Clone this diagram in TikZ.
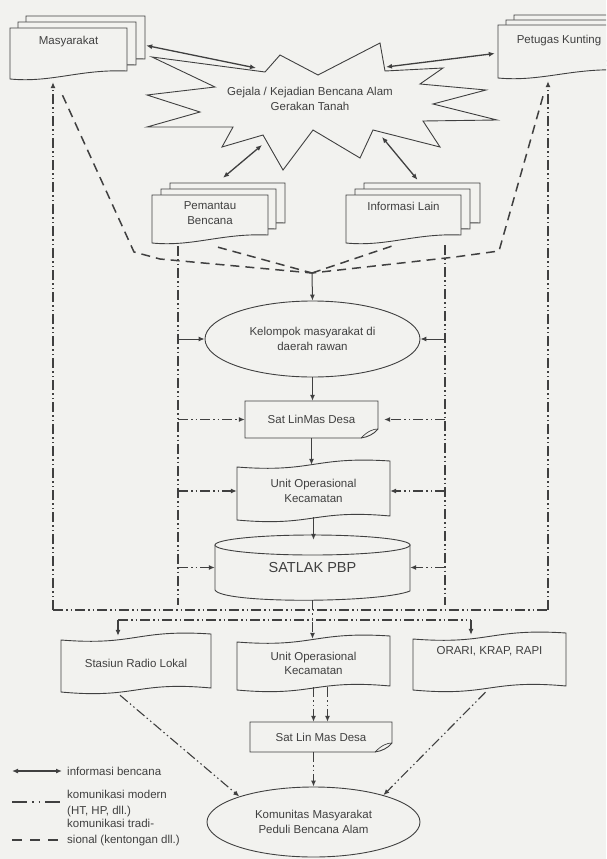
\documentclass[tikz,border=0pt]{standalone}
\usepackage{fontspec}
\setmainfont{Liberation Sans}
\usetikzlibrary{arrows.meta,shapes.geometric,calc}
\definecolor{bg}{HTML}{F2F2EF}
\definecolor{ink}{HTML}{404040}
\newcommand{\mytxtfont}{\fontsize{11.5}{14.5}\selectfont}
\newcommand{\toptext}[3]{\parbox[c][#1][t]{112pt}{\centering\vspace*{#2}#3\par}}
\newcommand{\docshape}[4]{\draw[shp] (#1,#2) -- (#3,#2) -- (#3,{(#4)-8}) .. controls ({(#1)+0.6*((#3)-(#1))},{(#4)-10}) and ({(#1)+0.35*((#3)-(#1))},{(#4)+4}) .. (#1,#4) -- cycle;}
\newcommand{\tapeshape}[4]{\draw[shp] (#1,{(#2)+6}) .. controls ({0.5*((#1)+(#3))},{(#2)+12}) and ({0.5*((#1)+(#3))},{(#2)-5}) .. (#3,#2) -- (#3,{(#4)-5}) .. controls ({0.5*((#1)+(#3))},{(#4)-12}) and ({0.5*((#1)+(#3))},{(#4)+6}) .. (#1,{(#4)-1}) -- cycle;}
\newcommand{\earshape}[4]{\draw[shp] (#1,#2) -- (#3,#2) -- (#3,{(#4)-9}) .. controls ({(#3)-4},{(#4)-4}) and ({(#3)-10},{(#4)-1}) .. ({(#3)-17},#4) -- (#1,#4) -- cycle;
  \draw[ink,line width=0.7pt] ({(#3)-17},#4) .. controls ({(#3)-10},{(#4)-7}) and ({(#3)-5},{(#4)-9}) .. (#3,{(#4)-9});}
\tikzset{
  shp/.style={draw=ink, line width=0.9pt, fill=bg},
  hold/.style={inner sep=0pt, align=center, text=ink, font=\mytxtfont},
  ell/.style={ellipse, draw=ink, line width=0.9pt, fill=bg, inner sep=0pt, align=center, text=ink, font=\mytxtfont},
  info/.style={draw=ink, line width=1.3pt, {Latex[length=6pt,width=5pt]}-{Latex[length=6pt,width=5pt]}},
  flow/.style={draw=ink, line width=1pt, -{Latex[length=6pt,width=5pt]}},
  tip/.style={-{Latex[length=6pt,width=5pt]}},
  modern/.style={draw=ink, line width=1.1pt, dash pattern=on 10pt off 3pt on 1.5pt off 3pt on 1.5pt off 3pt},
  trad/.style={draw=ink, line width=1.5pt, dash pattern=on 9pt off 6pt},
}
\begin{document}
\begin{tikzpicture}[x=1pt,y=-1pt]
\clip (0,0) rectangle (606,859);
\fill[bg] (0,0) rectangle (606,859);

% ---------- modern communication framework (drawn first, behind shapes)
\coordinate (LL) at (53,610);
\coordinate (RR) at (548,610);
\coordinate (LI) at (178,605);
\coordinate (RI) at (445,605);
\coordinate (h2l) at (118,620);
\coordinate (h2r) at (471,620);

% ---------- top documents
\docshape{26}{16}{145}{67}
\docshape{18}{22}{136}{73}
\docshape{10}{28}{127}{79}
\node[hold,minimum width=117pt,minimum height=51pt] (mas) at (68.5,53.5) {\toptext{51pt}{8pt}{Masyarakat}};

\docshape{514}{15}{640}{68}
\docshape{506}{20}{630}{73}
\docshape{498}{25}{620}{78}
\node[hold,minimum width=122pt,minimum height=53pt] (pet) at (559,51.5) {\toptext{53pt}{10pt}{Petugas Kunting}};

\docshape{170}{183}{285}{231}
\docshape{161}{189}{276}{237}
\docshape{152}{195}{268}{243}
\node[hold,minimum width=116pt,minimum height=48pt] (pem) at (210,219) {\toptext{48pt}{7pt}{Pemantau\\Bencana}};

\docshape{364}{183}{480}{231}
\docshape{355}{189}{470}{237}
\docshape{346}{195}{461}{243}
\node[hold,minimum width=115pt,minimum height=48pt] (inf) at (403.5,219) {\toptext{48pt}{7pt}{Informasi Lain}};

% ---------- starburst
\draw[shp] (380,43) -- (385,71) -- (443,68) -- (420,84) -- (486,90) -- (433,104) -- (497,120) -- (423,121) -- (440,147) -- (373,130) -- (360,158) -- (313,130) -- (283,170) -- (263,135) -- (222,147) -- (233,127) -- (147,127) -- (200,112) -- (147,95) -- (215,87) -- (152,57) -- (265,72) -- (280,55) -- (318,75) -- cycle;
\node[hold] (star) at (310,99) {Gejala / Kejadian Bencana Alam\\Gerakan Tanah};
\coordinate (sA) at (256,68);
\coordinate (sB) at (386,67);
\coordinate (sC) at (262,145);
\coordinate (sD) at (382,137);

\draw[info] ([xshift=19pt,yshift=8pt]mas.east) -- (sA);
\draw[info] (sB) -- ([xshift=-3pt,yshift=-2pt]pet.west);
\draw[info] (sC) -- ([xshift=13pt,yshift=17pt]pem.north);
\draw[info] (sD) -- ([xshift=14pt,yshift=15pt]inf.north);

% ---------- central column
\node[ell, minimum width=215pt, minimum height=76pt] (kel) at (312.5,339) {Kelompok masyarakat di\\daerah rawan};
\earshape{245}{401}{378}{438}
\node[hold, minimum width=133pt, minimum height=37pt] (satlin) at (311.5,419.5) {Sat LinMas Desa};
\tapeshape{237}{461}{390}{521}
\node[hold, minimum width=153pt, minimum height=60pt] (unitop) at (313.5,491) {Unit Operasional\\Kecamatan};
\draw[shp] (215,545) -- (215,590) .. controls (222,604) and (380,603) .. (410,591) -- (410,545) -- cycle;
\draw[shp] (312.5,545) ellipse [x radius=97.5, y radius=10];
\node[hold, minimum width=195pt, minimum height=65pt, font=\fontsize{14.5}{16}\selectfont] (satlak) at (312.5,567.5) {\raisebox{-7pt}{SATLAK PBP}};

% ---------- bottom row
\tapeshape{61}{634}{211}{693}
\node[hold, minimum width=150pt, minimum height=59pt] (radio) at (136,663.5) {Stasiun Radio Lokal};
\tapeshape{237}{636}{390}{691}
\node[hold, minimum width=153pt, minimum height=55pt] (unitop2) at (313.5,663.5) {Unit Operasional\\Kecamatan};
\tapeshape{413}{633}{566}{691}
\node[hold, minimum width=153pt, minimum height=58pt] (orari) at (489.5,662) {\toptext{58pt}{13pt}{ORARI, KRAP, RAPI}};
\earshape{250}{722}{392}{752}
\node[hold, minimum width=142pt, minimum height=30pt] (satlin2) at (321,737) {Sat Lin Mas Desa};
\node[ell, minimum width=213pt, minimum height=70pt] (kom) at (313.5,822) {Komunitas Masyarakat\\Peduli Bencana Alam};

% ---------- traditional (dashed) paths
\coordinate (tj) at (312,273);
\draw[trad] ([xshift=-6pt,yshift=-16pt]mas.south) -- (134,252) -- (160,259) -- (tj);
\draw[trad] ([xshift=8pt,yshift=-4pt]pem.south) -- (tj);
\draw[trad] ([xshift=-12pt,yshift=-3pt]inf.south) -- (tj);
\draw[trad] ([xshift=-16pt,yshift=-18pt]pet.south) -- (499,251) -- (455,257) -- (tj);
\draw[flow] (tj) -- (kel.north);

% ---------- modern (dash-dot) framework
\draw[modern,tip] (LL) -- ([yshift=-3pt]LL |- mas.south);
\draw[modern,tip] (RR) -- ([yshift=-3pt]RR |- pet.south);
\draw[modern] ([yshift=-3pt]LI |- pem.south) -- (LI);
\draw[modern] ([yshift=-2pt]RI |- inf.south) -- (RI);
\draw[modern] (LL) -- (RR);
\draw[modern] (h2l) -- (h2r);
\draw[modern,tip] (h2l) -- ([yshift=-2pt]h2l |- radio.north);
\draw[modern,tip] (h2r) -- ([yshift=-2pt]h2r |- orari.north);

% side arrows
\draw[flow] (LI |- kel.west) -- (kel.west);
\draw[flow] (RI |- kel.east) -- (kel.east);
\draw[modern,tip] (LI |- satlin.west) -- (satlin.west);
\draw[modern,tip] (RI |- satlin.east) -- ([xshift=6pt]satlin.east);
\draw[modern,tip] (LI |- unitop.west) -- (unitop.west);
\draw[modern,tip] (RI |- unitop.east) -- (unitop.east);
\draw[modern,tip] (LI |- satlak.west) -- (satlak.west);
\draw[modern,tip] (RI |- satlak.east) -- (satlak.east);

% central flow
\draw[flow] (kel.south) -- (kel.south |- satlin.north);
\draw[flow] (satlin.south) -- ([yshift=-4pt]satlin.south |- unitop.north);
\draw[flow] ([yshift=4pt]unitop.south) -- ([yshift=-5pt]unitop.south |- satlak.north);
\draw[modern,tip] (satlak.south) -- ([yshift=-3pt]satlak.south |- unitop2.north);
\coordinate (u2a) at ([yshift=4pt]unitop2.south);
\coordinate (u2b) at ([xshift=14pt,yshift=4pt]unitop2.south);
\draw[modern,tip] (u2a) -- (u2a |- satlin2.north);
\draw[modern,tip] (u2b) -- (u2b |- satlin2.north);
\draw[modern,tip] (kom.north |- satlin2.south) -- (kom.north);
\draw[modern,tip] ([xshift=-16pt,yshift=-2pt]radio.south) -- (kom.161);
\draw[modern,tip] ([xshift=-4pt,yshift=-1pt]orari.south) -- (kom.21);

% ---------- legend
\coordinate (la1) at (12,771);
\coordinate (la2) at (62,771);
\coordinate (lb1) at (12,802);
\coordinate (lb2) at (62,802);
\coordinate (lc1) at (12,840);
\coordinate (lc2) at (62,840);
\draw[info] (la1) -- (la2);
\draw[draw=ink, line width=1.1pt, dash pattern=on 15pt off 5pt on 1.5pt off 5pt on 1.5pt off 5pt] (lb1) -- (lb2);
\draw[draw=ink, line width=1.5pt, dash pattern=on 10pt off 8pt] (lc1) -- (lc2);
\node[hold, anchor=west, align=left] (lg1) at (67,771) {informasi bencana};
\node[hold, anchor=west, align=left, font=\fontsize{11.5}{16}\selectfont] (lg2) at (67,804) {komunikasi modern\\(HT, HP, dll.)};
\node[hold, anchor=west, align=left, font=\fontsize{11.5}{16}\selectfont] (lg3) at (67,833) {komunikasi tradi-\\sional (kentongan dll.)};
\end{tikzpicture}
\end{document}
